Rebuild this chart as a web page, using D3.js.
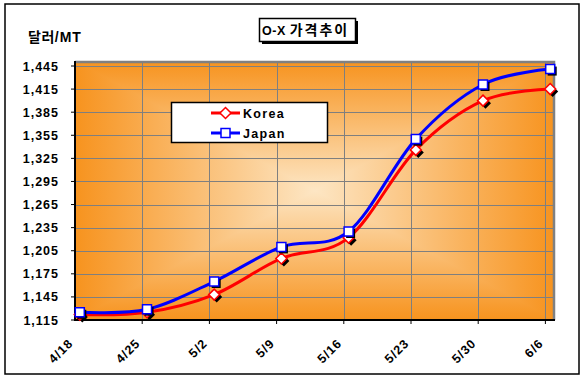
<!DOCTYPE html>
<html><head><meta charset="utf-8">
<script src="https://cdn.jsdelivr.net/npm/d3@7"></script>
<style>body{margin:0;background:#fff}svg{display:block}</style>
</head><body>
<script>
// ---- data ----
const categories = ["4/18","4/25","5/2","5/9","5/16","5/23","5/30","6/6"];
const korea = [1122,1125,1148,1195,1222,1336,1400,1415];
const japan = [1125,1129,1165,1210,1230,1350,1421,1441];
const yTickValues = [1115,1145,1175,1205,1235,1265,1295,1325,1355,1385,1415,1445];
const seriesNames = ["Korea","Japan"];
const titleLatin = "O-X ";
const titleKorean = "가격추이";
const unitLabel = "달러/MT";

// ---- layout ----
const W = 585, H = 383;
const L = 75, R = 555, T = 61, B = 320;
const cx = (L + R) / 2, cy = (T + B) / 2;
const ORANGE = "#f7931e", LIGHT = "#fde6c4";
const latin = "'Liberation Sans', Arial, sans-serif";
const kor = "'Noto Sans CJK KR', 'Liberation Sans', sans-serif";

const parse = s => { const [m, d] = s.split("/").map(Number); return new Date(2008, m - 1, d); };
const dates = categories.map(parse);
const halfDay = 12 * 3600 * 1000;

const x = d3.scaleTime()
  .domain([new Date(+dates[0] - halfDay), new Date(+dates[dates.length - 1] + halfDay)])
  .range([L, R]);
const y = d3.scaleLinear().domain([1115, 1451.5]).range([B, T]);

const svg = d3.select("body").append("svg").attr("width", W).attr("height", H);
const defs = svg.append("defs");

function grad(id, vertical) {
  const g = defs.append("linearGradient").attr("id", id)
    .attr("x1", 0).attr("y1", 0).attr("x2", vertical ? 0 : 1).attr("y2", vertical ? 1 : 0);
  [[0, ORANGE], [0.5, LIGHT], [1, ORANGE]].forEach(([o, c]) =>
    g.append("stop").attr("offset", o).attr("stop-color", c));
}
grad("gh", false); grad("gv", true);
const cTB = defs.append("clipPath").attr("id", "cTB");
cTB.append("polygon").attr("points", `${L},${T} ${R},${T} ${cx},${cy}`);
cTB.append("polygon").attr("points", `${L},${B} ${R},${B} ${cx},${cy}`);

// outer frame
svg.append("rect").attr("x", 5).attr("y", 4).attr("width", 574).attr("height", 370)
  .attr("fill", "#fff").attr("stroke", "#000").attr("stroke-width", 1.5);

// plot background (rectangular "from centre" gradient)
svg.append("rect").attr("x", L).attr("y", T).attr("width", R - L).attr("height", B - T).attr("fill", "url(#gh)");
svg.append("rect").attr("x", L).attr("y", T).attr("width", R - L).attr("height", B - T)
  .attr("fill", "url(#gv)").attr("clip-path", "url(#cTB)");

// grid lines
const grid = svg.append("g");
const hLines = yTickValues.slice(1);
const vLines = dates.slice(1).map(d => new Date(+d - halfDay));
function dashed(sel) {
  sel.clone().attr("stroke", "#7f7f7f").attr("stroke-width", 1);
  sel.attr("stroke", "#fff").attr("stroke-width", 1).attr("stroke-dasharray", "4,2");
}
hLines.forEach(v => dashed(grid.append("line").attr("x1", L).attr("x2", R).attr("y1", Math.round(y(v)) + 0.5).attr("y2", Math.round(y(v)) + 0.5)));
vLines.forEach(v => dashed(grid.append("line").attr("y1", T).attr("y2", B).attr("x1", Math.round(x(v)) + 0.5).attr("x2", Math.round(x(v)) + 0.5)));

// plot frame: grey top/right, black axes
svg.append("path").attr("d", `M${L},${T + 1}H${R - 1}V${B}`).attr("fill", "none")
  .attr("stroke", "#808080").attr("stroke-width", 2.5);
svg.append("path").attr("d", `M${L},${T}V${B}H${R}`).attr("fill", "none")
  .attr("stroke", "#000").attr("stroke-width", 2);

// y axis labels and ticks
const yAxis = svg.append("g");
yTickValues.forEach(v => {
  yAxis.append("line").attr("x1", L - 4).attr("x2", L).attr("y1", y(v)).attr("y2", y(v)).attr("stroke", "#000").attr("stroke-width", 1);
  yAxis.append("text").attr("x", 59).attr("y", y(v) + 4.5).attr("text-anchor", "end")
    .attr("font-family", latin).attr("font-weight", "bold").attr("font-size", 12.5)
    .attr("letter-spacing", 1).text(d3.format(",")(v));
});
// x axis ticks and labels
const xAxis = svg.append("g");
vLines.forEach(v => xAxis.append("line").attr("x1", x(v)).attr("x2", x(v)).attr("y1", B).attr("y2", B + 4).attr("stroke", "#000"));
categories.forEach((c, i) => {
  xAxis.append("text")
    .attr("transform", `translate(${x(dates[i]) - 6},${B + 24}) rotate(-45)`)
    .attr("text-anchor", "end").attr("font-family", latin).attr("font-weight", "bold")
    .attr("font-size", 12.5).attr("letter-spacing", 1).text(c);
});

// series
const line = d3.line().x((d, i) => x(dates[i])).y(d => y(d)).curve(d3.curveCatmullRom.alpha(0));
const diamond = (s) => `M0,${-s}L${s},0L0,${s}L${-s},0Z`;
const square = (s) => `M${-s},${-s}H${s}V${s}H${-s}Z`;
const series = [
  { name: seriesNames[0], data: korea, color: "#ff0000", shape: diamond(5.5), sh: 2.5 },
  { name: seriesNames[1], data: japan, color: "#0000ff", shape: square(4.5), sh: 2 }
];
series.forEach(s => {
  svg.append("path").attr("d", line(s.data)).attr("fill", "none").attr("stroke", s.color).attr("stroke-width", 3);
  const g = svg.append("g");
  s.data.forEach((v, i) => {
    const px = x(dates[i]), py = y(v);
    g.append("path").attr("d", s.shape).attr("transform", `translate(${px + s.sh},${py + s.sh})`).attr("fill", "#000");
    g.append("path").attr("d", s.shape).attr("transform", `translate(${px},${py})`)
      .attr("fill", "#fff").attr("stroke", s.color).attr("stroke-width", 1.5);
  });
});

// legend
const lg = svg.append("g");
lg.append("rect").attr("x", 171.5).attr("y", 102.5).attr("width", 156).attr("height", 40)
  .attr("fill", "#fff").attr("stroke", "#000").attr("stroke-width", 1.5);
series.forEach((s, i) => {
  const ly = 113 + i * 20;
  lg.append("line").attr("x1", 211).attr("x2", 240).attr("y1", ly).attr("y2", ly).attr("stroke", s.color).attr("stroke-width", 3);
  lg.append("path").attr("d", s.shape).attr("transform", `translate(225.5,${ly})`)
    .attr("fill", "#fff").attr("stroke", s.color).attr("stroke-width", 1.5);
  lg.append("text").attr("x", 243).attr("y", ly + 4.5).attr("font-family", latin).attr("font-weight", "bold")
    .attr("font-size", 12.5).attr("letter-spacing", 1.3).text(s.name);
});

// title box
svg.append("rect").attr("x", 262).attr("y", 21).attr("width", 96).attr("height", 23).attr("fill", "#000");
svg.append("rect").attr("x", 259.5).attr("y", 18.5).attr("width", 96).attr("height", 23)
  .attr("fill", "#fff").attr("stroke", "#000").attr("stroke-width", 1.5);
const tt = svg.append("text").attr("x", 262).attr("y", 35).attr("font-weight", "bold");
tt.append("tspan").attr("font-family", latin).attr("font-size", 12.5).attr("letter-spacing", 0.5).text(titleLatin);
tt.append("tspan").attr("font-family", kor).attr("font-size", 14).attr("letter-spacing", 2).text(titleKorean);

// unit label
const ut = svg.append("text").attr("x", 28).attr("y", 42).attr("font-weight", "bold");
ut.append("tspan").attr("font-family", kor).attr("font-size", 14).attr("letter-spacing", 0.5).text(unitLabel.slice(0, 2));
ut.append("tspan").attr("font-family", latin).attr("font-size", 14).attr("letter-spacing", 1).text(unitLabel.slice(2));
</script>
</body></html>
